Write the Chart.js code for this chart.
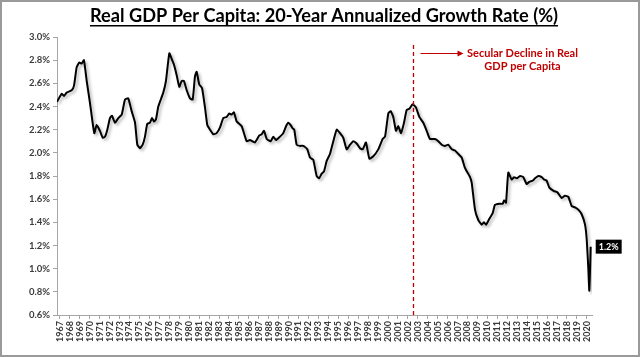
<!DOCTYPE html>
<html>
<head>
<meta charset="utf-8">
<script src="https://cdn.jsdelivr.net/npm/chart.js@4.4.1/dist/chart.umd.min.js"></script>
<style>
  html, body { margin: 0; padding: 0; background: #ffffff; }
  #wrap { position: relative; width: 640px; height: 357px; }
  canvas { display: block; }
</style>
</head>
<body>
<div id="wrap"><canvas id="c" width="640" height="357"></canvas></div>
<script>
// ---- Data ----
const chartTitle = "Real GDP Per Capita: 20-Year Annualized Growth Rate (%)";
const annotationLines = ["Secular Decline in Real", "GDP per Capita"];
const annotationYear = 2002.5;

// decimal year of each observation
const dates = [
  1966.70, 1967.17, 1967.40, 1967.67, 1968.18, 1968.41, 1968.68, 1968.94, 1969.18, 1969.41,
  1969.69, 1970.02, 1970.45, 1970.69, 1971.02, 1971.30, 1971.53, 1971.76, 1972.03, 1972.23,
  1972.53, 1972.87, 1973.21, 1973.54, 1973.87, 1974.21, 1974.55, 1974.78, 1975.05, 1975.32,
  1975.55, 1975.78, 1976.05, 1976.26, 1976.46, 1976.66, 1976.89, 1977.39, 1977.66, 1978.00,
  1978.24, 1978.47, 1978.74, 1979.00, 1979.24, 1979.47, 1979.75, 1980.08, 1980.35, 1980.58,
  1980.75, 1981.01, 1981.29, 1981.59, 1981.82, 1982.09, 1982.42, 1982.76, 1983.10, 1983.43,
  1983.77, 1984.03, 1984.27, 1984.50, 1984.78, 1985.28, 1985.78, 1986.11, 1986.62, 1987.05,
  1987.29, 1987.52, 1987.80, 1988.20, 1988.46, 1988.73, 1989.13, 1989.46, 1989.74, 1989.97,
  1990.21, 1990.41, 1990.57, 1990.81, 1991.14, 1991.48, 1991.88, 1992.15, 1992.48, 1992.82,
  1993.06, 1993.33, 1993.56, 1993.83, 1994.16, 1994.50, 1994.84, 1995.17, 1995.50, 1995.84,
  1996.18, 1996.51, 1996.85, 1997.18, 1997.45, 1997.78, 1998.12, 1998.52, 1999.02, 1999.46,
  1999.70, 2000.03, 2000.27, 2000.53, 2000.80, 2001.03, 2001.31, 2001.61, 2001.88, 2002.14,
  2002.48, 2002.82, 2003.15, 2003.55, 2003.89, 2004.22, 2004.73, 2005.06, 2005.40, 2005.73,
  2006.06, 2006.41, 2006.74, 2007.07, 2007.41, 2007.74, 2008.25, 2008.42, 2008.75, 2009.08,
  2009.42, 2009.66, 2009.86, 2010.19, 2010.53, 2010.76, 2011.20, 2011.54, 2011.67, 2011.87,
  2012.10, 2012.44, 2012.67, 2012.95, 2013.28, 2013.61, 2013.95, 2014.21, 2014.56, 2014.79,
  2015.12, 2015.46, 2015.69, 2015.96, 2016.23, 2016.70, 2017.03, 2017.47, 2017.80, 2018.14,
  2018.48, 2018.81, 2019.14, 2019.48, 2019.82, 2019.99, 2020.15, 2020.25, 2020.39
];

// 20-year annualized growth rate, %
const growth = [
  2.44, 2.51, 2.49, 2.52, 2.54, 2.58, 2.74, 2.78, 2.77, 2.80,
  2.62, 2.43, 2.17, 2.24, 2.19, 2.13, 2.14, 2.20, 2.30, 2.32,
  2.26, 2.30, 2.33, 2.46, 2.47, 2.36, 2.26, 2.07, 2.04, 2.07,
  2.14, 2.25, 2.26, 2.30, 2.27, 2.29, 2.40, 2.52, 2.62, 2.86,
  2.81, 2.76, 2.67, 2.57, 2.62, 2.62, 2.54, 2.47, 2.46, 2.66,
  2.70, 2.59, 2.56, 2.39, 2.24, 2.20, 2.16, 2.17, 2.22, 2.30,
  2.31, 2.34, 2.33, 2.35, 2.27, 2.23, 2.10, 2.11, 2.09, 2.15,
  2.16, 2.19, 2.12, 2.10, 2.14, 2.11, 2.14, 2.17, 2.23, 2.26,
  2.24, 2.21, 2.20, 2.07, 2.06, 2.06, 2.03, 1.96, 1.94, 1.80,
  1.78, 1.82, 1.84, 1.93, 1.99, 2.10, 2.20, 2.17, 2.13, 2.03,
  2.07, 2.10, 2.08, 2.04, 2.03, 2.09, 1.95, 1.97, 2.03, 2.12,
  2.14, 2.34, 2.36, 2.31, 2.19, 2.23, 2.17, 2.26, 2.37, 2.38,
  2.42, 2.39, 2.31, 2.26, 2.19, 2.12, 2.12, 2.10, 2.07, 2.06,
  2.07, 2.03, 2.02, 1.99, 1.96, 1.87, 1.79, 1.74, 1.51, 1.42,
  1.38, 1.40, 1.38, 1.43, 1.48, 1.55, 1.56, 1.56, 1.59, 1.57,
  1.83, 1.77, 1.79, 1.78, 1.80, 1.79, 1.73, 1.75, 1.76, 1.78,
  1.80, 1.79, 1.77, 1.76, 1.70, 1.67, 1.66, 1.61, 1.63, 1.62,
  1.54, 1.53, 1.51, 1.47, 1.38, 1.25, 1.00, 0.81, 1.19
];

// axis ranges / tick settings
const xRange = [1966.70, 2020.52];
const yRange = [0.6, 3.0];
const yStep = 0.2;

const points = dates.map((d, i) => ({ x: d, y: growth[i] }));

const RED = '#C00000';
const AXIS = '#a6a6a6';
const LABEL = '#3a3a3a';
const FONT = 'Lato';

const decorPlugin = {
  id: 'decor',
  beforeDatasetsDraw(chart) {
    const ctx = chart.ctx;
    ctx.save();
    ctx.shadowColor = 'rgba(0,0,0,0.30)';
    ctx.shadowBlur = 3;
    ctx.shadowOffsetX = 2;
    ctx.shadowOffsetY = 2;
  },
  afterDatasetsDraw(chart) {
    const ctx = chart.ctx;
    ctx.restore();
    const xs = chart.scales.x;
    const area = chart.chartArea;

    // dashed vertical line
    const vx = Math.round(xs.getPixelForValue(annotationYear)) + 0.5;
    ctx.save();
    ctx.strokeStyle = RED;
    ctx.lineWidth = 1.3;
    ctx.setLineDash([4, 3]);
    ctx.beginPath();
    ctx.moveTo(vx, 45);
    ctx.lineTo(vx, area.bottom);
    ctx.stroke();
    ctx.setLineDash([]);

    // arrow
    const ay = 53.5;
    ctx.lineWidth = 1;
    ctx.beginPath();
    ctx.moveTo(vx + 7, ay);
    ctx.lineTo(vx + 45, ay);
    ctx.stroke();
    ctx.fillStyle = RED;
    ctx.beginPath();
    ctx.moveTo(vx + 50, ay);
    ctx.lineTo(vx + 44, ay - 3);
    ctx.lineTo(vx + 44, ay + 3);
    ctx.closePath();
    ctx.fill();

    // annotation text
    ctx.font = `bold 11px ${FONT}`;
    ctx.textAlign = 'center';
    ctx.textBaseline = 'middle';
    const cx = vx + 109;
    ctx.fillText(annotationLines[0], cx, 53);
    ctx.fillText(annotationLines[1], cx, 66);
    ctx.restore();

    // end value label
    const meta = chart.getDatasetMeta(0);
    const last = meta.data[meta.data.length - 1];
    const txt = growth[growth.length - 1].toFixed(1) + '%';
    ctx.save();
    ctx.font = `bold 9px ${FONT}`;
    const w = ctx.measureText(txt).width + 6;
    const bx = last.x + 5, by = last.y - 7;
    ctx.fillStyle = '#000000';
    ctx.fillRect(bx, by, w, 14);
    ctx.fillStyle = '#ffffff';
    ctx.textAlign = 'left';
    ctx.textBaseline = 'middle';
    ctx.fillText(txt, bx + 3, last.y + 0.5);
    ctx.restore();
  },
  afterDraw(chart) {
    const ctx = chart.ctx;
    ctx.save();
    // title, sized to the reference width
    ctx.font = `bold 19px ${FONT}`;
    const w19 = ctx.measureText(chartTitle).width;
    const size = Math.min(21, 19 * 468 / w19);
    ctx.font = `bold ${size.toFixed(2)}px ${FONT}`;
    ctx.fillStyle = '#000000';
    ctx.textAlign = 'center';
    ctx.textBaseline = 'alphabetic';
    const tw = ctx.measureText(chartTitle).width;
    const tx = 324;
    ctx.fillText(chartTitle, tx, 22);
    ctx.fillRect(tx - tw / 2, 25, tw, 1.5);
    // frame
    ctx.strokeStyle = '#9a9a9a';
    ctx.lineWidth = 2;
    ctx.strokeRect(1, 1, 638, 355);
    ctx.restore();
  }
};

new Chart(document.getElementById('c'), {
  type: 'line',
  data: {
    datasets: [{
      data: points,
      borderColor: '#000000',
      borderWidth: 2,
      pointRadius: 0,
      tension: 0.15,
      borderJoinStyle: 'round',
      fill: false
    }]
  },
  options: {
    responsive: false,
    animation: false,
    layout: { padding: { left: 0, right: 48, top: 37, bottom: 0 } },
    plugins: { legend: { display: false }, tooltip: { enabled: false }, title: { display: false } },
    scales: {
      x: {
        type: 'linear',
        min: xRange[0],
        max: xRange[1],
        afterFit(s) { s.height = 42; },
        border: { display: true, color: AXIS, width: 1 },
        grid: { display: true, drawOnChartArea: false, drawTicks: true, tickLength: 4, color: AXIS },
        ticks: {
          stepSize: 1,
          includeBounds: false,
          autoSkip: false,
          minRotation: 90,
          maxRotation: 90,
          padding: 2,
          color: LABEL,
          font: { family: FONT, size: 9, weight: 'bold' },
          callback: v => Number.isInteger(v) ? String(v) : ''
        }
      },
      y: {
        type: 'linear',
        min: yRange[0],
        max: yRange[1],
        afterFit(s) { s.width = 57; },
        border: { display: true, color: AXIS, width: 1 },
        grid: { display: true, drawOnChartArea: false, drawTicks: true, tickLength: 4, color: AXIS },
        ticks: {
          stepSize: yStep,
          padding: 3,
          color: LABEL,
          font: { family: FONT, size: 9.5, weight: 'bold' },
          callback: v => v.toFixed(1) + '%'
        }
      }
    }
  },
  plugins: [decorPlugin]
});
</script>
</body>
</html>
